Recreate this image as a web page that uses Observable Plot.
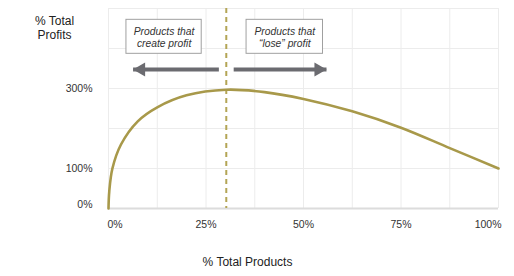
<!DOCTYPE html>
<html>
<head>
<meta charset="utf-8">
<script src="https://cdn.jsdelivr.net/npm/d3@7"></script>
<script src="https://cdn.jsdelivr.net/npm/@observablehq/plot@0.6"></script>
<style>
  html, body { margin: 0; padding: 0; background: #fff; }
</style>
</head>
<body>
<div id="chart"></div>
<script>
// Whale curve: cumulative % of total profits vs cumulative % of total products
const productShare = [0, 0.2, 1, 3.2, 7.5, 12.5, 20, 30.2, 40, 50, 62.5, 75, 87.5, 100];
const profitShare  = [0, 43, 100, 160, 218, 253, 283, 297, 291, 274, 243, 202, 151, 100];

const xTickLabels = [0, 25, 50, 75, 100];
const yTickLabels = [0, 100, 300];
const xGrid = [0, 12.5, 25, 37.5, 50, 62.5, 75, 87.5, 100];
const yGrid = [0, 100, 200, 300, 400, 500];

const breakEven = 30.2; // dashed divider
const boxLabels = ["Products that\ncreate profit", "Products that\n\u201close\u201d profit"];
const boxLeft  = [4.6, 35.4];
const boxRight = [23.9, 55.0];
const boxBottom = 386.7;
const boxTop = 471.7;
const arrowFrom = [28.3, 32.1];
const arrowTo   = [6.3, 55.9];
const arrowLevel = 347.5;

const curve = productShare.map((x, i) => ({x, y: profitShare[i]}));
const boxes = boxLabels.map((t, i) => ({t, x1: boxLeft[i], x2: boxRight[i], xc: (boxLeft[i] + boxRight[i]) / 2}));
const arrows = arrowFrom.map((f, i) => ({x1: f, x2: arrowTo[i]}));

const gold = "#a8994a";
const arrowGray = "#6b6b70";
const pct = d => d + "%";
const tickStyle = {tickSize: 0, fontSize: 10.5, fill: "#333", label: null};

const chart = Plot.plot({
  width: 514,
  height: 276,
  marginLeft: 108,
  marginRight: 16,
  marginTop: 8,
  marginBottom: 68,
  x: {domain: [0, 100]},
  y: {domain: [0, 500]},
  style: {fontFamily: "'Liberation Sans', Arial, Helvetica, sans-serif", background: "#fff", color: "#333"},
  marks: [
    Plot.gridX(xGrid, {stroke: "#ececec", strokeOpacity: 1}),
    Plot.gridY(yGrid, {stroke: "#ececec", strokeOpacity: 1}),
    Plot.ruleY([0], {stroke: "#dcdcdc", strokeWidth: 2}),
    Plot.axisY(yTickLabels.filter(d => d > 0), {...tickStyle, tickPadding: 16, tickFormat: pct}),
    Plot.axisY(yTickLabels.filter(d => d === 0), {...tickStyle, tickPadding: 16, tickFormat: pct, dy: -4}),
    Plot.axisX(xTickLabels.filter(d => d === 0), {...tickStyle, tickPadding: 12, tickFormat: pct, textAnchor: "start", dx: -1}),
    Plot.axisX(xTickLabels.filter(d => d > 0 && d < 100), {...tickStyle, tickPadding: 12, tickFormat: pct}),
    Plot.axisX(xTickLabels.filter(d => d === 100), {...tickStyle, tickPadding: 12, tickFormat: pct, textAnchor: "end", dx: 3}),
    Plot.ruleX([breakEven], {stroke: "#b3a555", strokeWidth: 2, strokeDasharray: "5,4"}),
    Plot.line(curve, {x: "x", y: "y", curve: "catmull-rom", stroke: gold, strokeWidth: 2.6}),
    Plot.rect(boxes, {x1: "x1", x2: "x2", y1: boxBottom, y2: boxTop, fill: "#fff", stroke: "#a0a0a0", strokeWidth: 1}),
    Plot.text(boxes, {x: "xc", y: (boxBottom + boxTop) / 2, text: "t", fontStyle: "italic", fontSize: 10.3, lineHeight: 1.2, fill: "#333", lineAnchor: "middle"}),
    Plot.link(arrows, {x1: "x1", x2: "x2", y1: arrowLevel, y2: arrowLevel, stroke: arrowGray, strokeWidth: 4}),
    Plot.dot(arrows.filter(a => a.x2 < a.x1), {x: "x2", y: arrowLevel, symbol: "triangle", r: 5.2, rotate: -90, fill: arrowGray, stroke: null, dx: 8}),
    Plot.dot(arrows.filter(a => a.x2 > a.x1), {x: "x2", y: arrowLevel, symbol: "triangle", r: 5.2, rotate: 90, fill: arrowGray, stroke: null, dx: -8}),
    Plot.text(["% Total\nProfits"], {frameAnchor: "top-left", textAnchor: "middle", lineAnchor: "middle", dx: -54, dy: 19, fontSize: 12, lineHeight: 1.17, fill: "#222"}),
    Plot.text(["% Total Products"], {frameAnchor: "bottom", textAnchor: "middle", lineAnchor: "middle", dx: -56, dy: 54, fontSize: 12, fill: "#222"})
  ]
});

document.getElementById("chart").appendChild(chart);
</script>
</body>
</html>
